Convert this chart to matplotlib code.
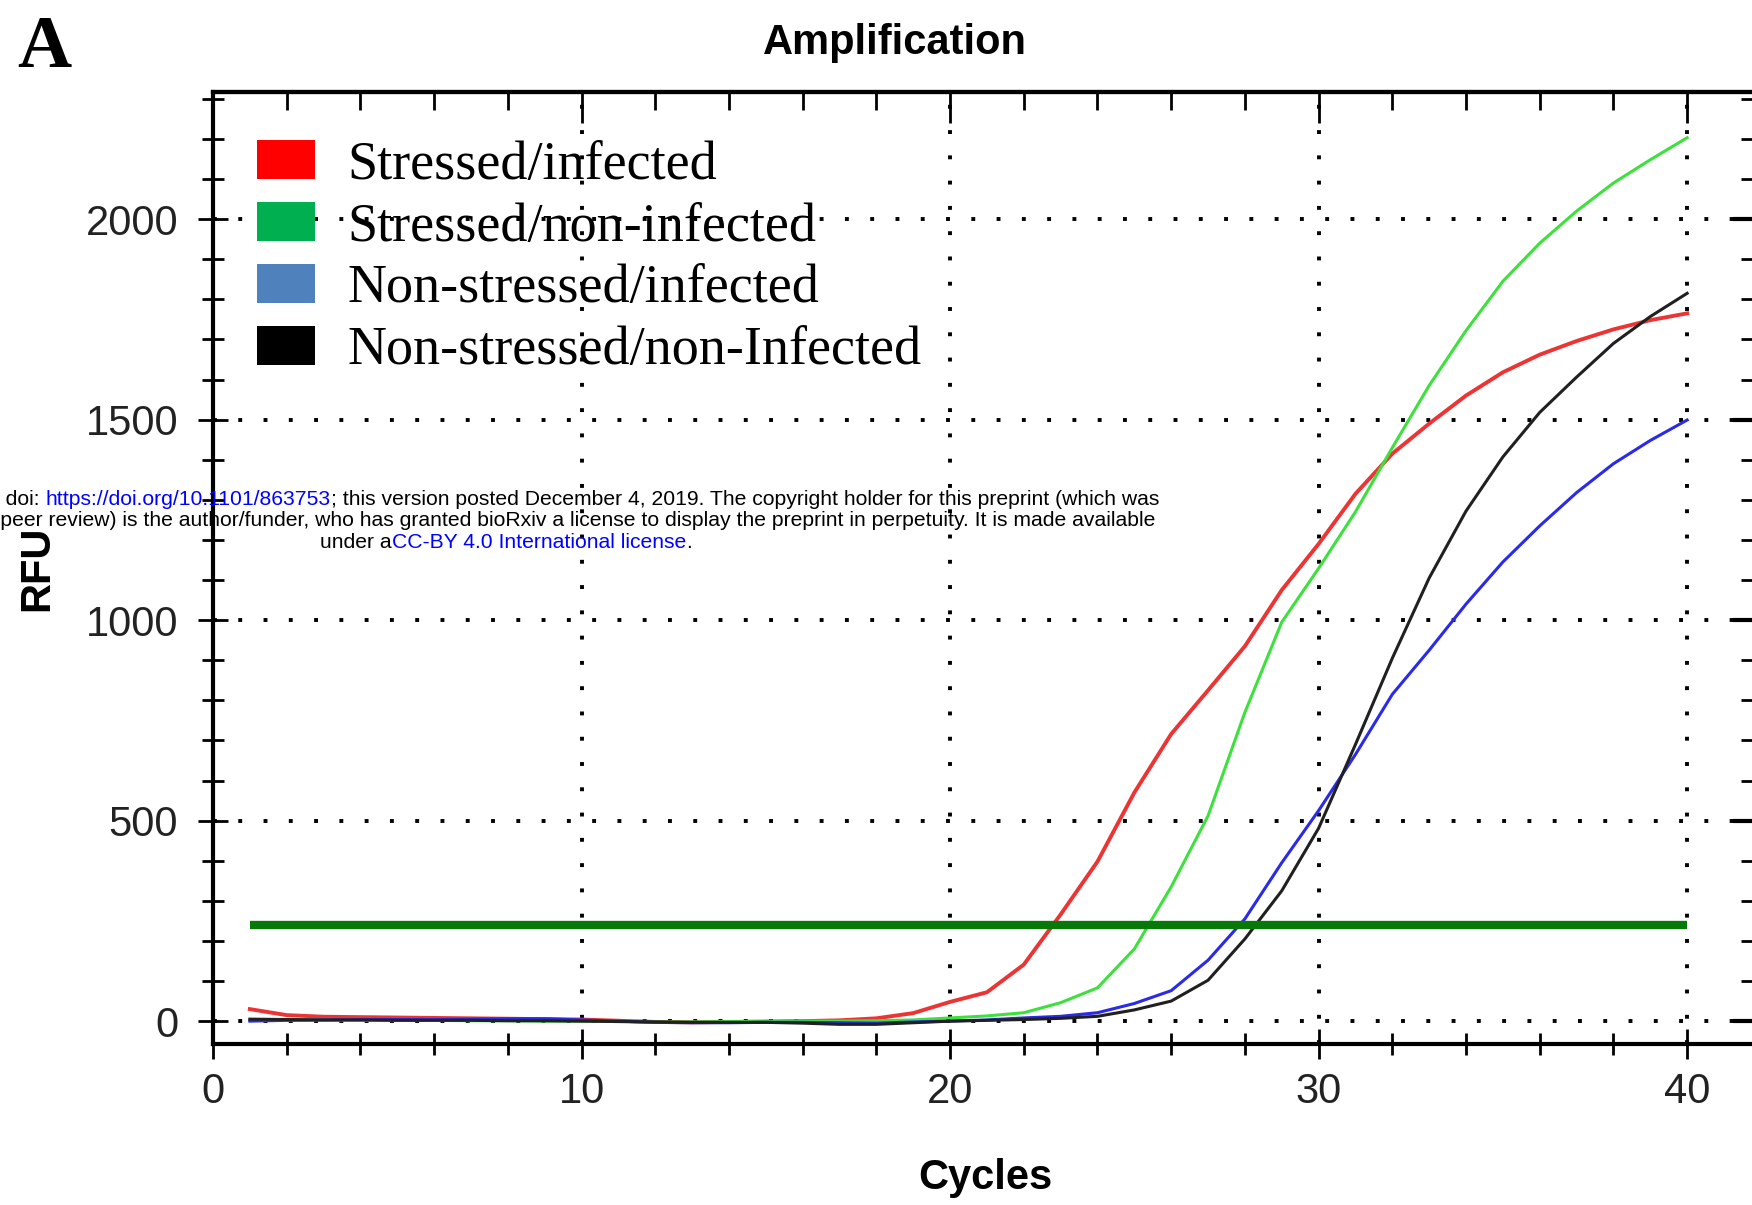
import matplotlib
matplotlib.use('Agg')
import matplotlib.pyplot as plt
from matplotlib.patches import Patch

# qPCR amplification curves, RFU per cycle
cycles = list(range(1, 41))
stressed_infected = [30, 15, 11, 10, 9, 8, 7, 6, 5, 4,
                     1, -2, -3, -2, -1, 0, 2, 7, 20, 48,
                     72, 141, 266, 398, 570, 716, 825, 935, 1075, 1190,
                     1315, 1415, 1490, 1560, 1618, 1662, 1696, 1725, 1748, 1765]
stressed_noninfected = [2, 3, 3, 2, 2, 2, 1, 1, 0, 0,
                        -1, -2, -2, -1, -1, 0, 0, 1, 3, 8,
                        13, 21, 46, 83, 180, 335, 512, 770, 995, 1129,
                        1270, 1430, 1585, 1722, 1845, 1940, 2020, 2090, 2148, 2203]
nonstressed_infected = [0, 2, 3, 4, 4, 4, 5, 6, 6, 3,
                        0, -3, -4, -4, -3, -3, -4, -5, -2, 0,
                        3, 8, 12, 21, 44, 76, 152, 255, 395, 525,
                        665, 815, 925, 1040, 1145, 1235, 1318, 1390, 1448, 1499]
nonstressed_noninfected = [5, 4, 3, 3, 2, 2, 2, 1, 1, 0,
                           -1, -2, -3, -3, -3, -5, -8, -8, -4, 0,
                           2, 4, 7, 12, 28, 50, 102, 205, 325, 481,
                           690, 905, 1105, 1272, 1407, 1518, 1606, 1690, 1757, 1815]
threshold = 240
threshold_span = (1, 40)

labels = ['Stressed/infected', 'Stressed/non-infected',
          'Non-stressed/infected', 'Non-stressed/non-Infected']
line_colors = ['#ec3434', '#3ee03e', '#2a2ae8', '#202020']
legend_colors = ['#ff0000', '#00b050', '#4f81bd', '#000000']

W, H = 1752, 1205
fig = plt.figure(figsize=(W / 100, H / 100), dpi=100)
ax = fig.add_axes([213 / W, 1 - 1044 / H, (W - 213) / W, (1044 - 92) / H])

ax.set_xlim(0, 41.76)
ax.set_ylim(-57, 2317)

ax.set_xticks([0, 10, 20, 30, 40])
ax.set_xticks(range(0, 42, 2), minor=True)
ax.set_yticks([0, 500, 1000, 1500, 2000])
ax.set_yticks(range(0, 2301, 100), minor=True)

ax.grid(which='major', color='black', linestyle=(0, (1, 5.5)), linewidth=2.8)
ax.set_axisbelow(True)

series = [stressed_infected, stressed_noninfected,
          nonstressed_infected, nonstressed_noninfected]
widths = [2.8, 2.2, 2.2, 2.2]
for vals, col, lw in zip(series, line_colors, widths):
    ax.plot(cycles, vals, color=col, linewidth=lw, zorder=3)

ax.hlines(threshold, *threshold_span, color='#087808', linewidth=6, zorder=4)

for side in ['left', 'bottom', 'top']:
    ax.spines[side].set_linewidth(3)
ax.spines['right'].set_visible(False)

ax.tick_params(axis='y', which='major', direction='inout', length=22, width=2, pad=14,
               labelsize=30, labelcolor='#222222')
ax.tick_params(axis='x', which='major', direction='inout', length=22, width=2, pad=9,
               labelsize=30, labelcolor='#222222')
ax.tick_params(which='minor', direction='inout', length=16, width=2)
for lab in ax.get_xticklabels() + ax.get_yticklabels():
    lab.set_family('Liberation Sans')

top = ax.secondary_xaxis('top')
top.set_xticks([0, 10, 20, 30, 40])
top.set_xticks(range(0, 42, 2), minor=True)
top.tick_params(which='major', direction='in', length=22, width=2, labeltop=False)
top.tick_params(which='minor', direction='in', length=13, width=2)
top.spines['top'].set_linewidth(3)

right = ax.secondary_yaxis('right')
right.set_yticks([0, 500, 1000, 1500, 2000])
right.set_yticks(range(0, 2301, 100), minor=True)
right.tick_params(which='major', direction='in', length=14, width=3, labelright=False)
right.tick_params(which='minor', direction='in', length=8, width=2)
right.spines['right'].set_visible(False)

ax.set_xlabel('Cycles', family='Liberation Sans', weight='bold', size=30)
ax.xaxis.set_label_coords(0.502, -0.12)
ax.set_ylabel('RFU', family='Liberation Sans', weight='bold', size=30)
ax.yaxis.set_label_coords(-0.101, 0.5)

handles = [Patch(facecolor=c, edgecolor='none') for c in legend_colors]
ax.legend(handles, labels, loc='upper left', bbox_to_anchor=(257 / W, 1 - 140 / H),
          bbox_transform=fig.transFigure, frameon=False, borderpad=0, borderaxespad=0,
          handlelength=1.07, handleheight=0.74, handletextpad=0.6, labelspacing=0.21,
          prop=dict(family='Liberation Serif', size=39))

fig.text(895 / W, 1 - 43 / H, 'Amplification', ha='center', va='center',
         family='Liberation Sans', weight='bold', size=30)
fig.text(17 / W, 1 - 67 / H, 'A', ha='left', va='baseline',
         family='Liberation Serif', weight='bold', size=54)

# bioRxiv overlay, three centred lines with blue links
renderer = fig.canvas.get_renderer()
wm_font = dict(family='Liberation Sans', size=15.25)


def rich_line(parts, xc, y):
    full = ''.join(s for s, _ in parts)
    tmp = fig.text(0, 0, full, **wm_font)
    w = tmp.get_window_extent(renderer).width / fig.bbox.width
    tmp.remove()
    prev = None
    for s, col in parts:
        if prev is None:
            prev = fig.text(xc - w / 2, y, s, color=col, ha='left', va='center',
                            zorder=10, **wm_font)
        else:
            prev = ax.annotate(s, xy=(1, 0), xycoords=prev, va='bottom', ha='left',
                               color=col, annotation_clip=False, zorder=10, **wm_font)
    return prev


blue = '#0000ff'
xc = 506 / W
rich_line([('bioRxiv preprint doi: ', 'black'),
           ('https://doi.org/10.1101/863753', blue),
           ('; this version posted December 4, 2019. The copyright holder for this '
            'preprint (which was', 'black')], xc, 1 - 499 / H)
rich_line([('not certified by peer review) is the author/funder, who has granted bioRxiv '
            'a license to display the preprint in perpetuity. It is made available',
            'black')], xc, 1 - 521 / H)
rich_line([('under a', 'black'), ('CC-BY 4.0 International license', blue),
           ('.', 'black')], xc, 1 - 542 / H)

fig.savefig('out.png', dpi=100)
